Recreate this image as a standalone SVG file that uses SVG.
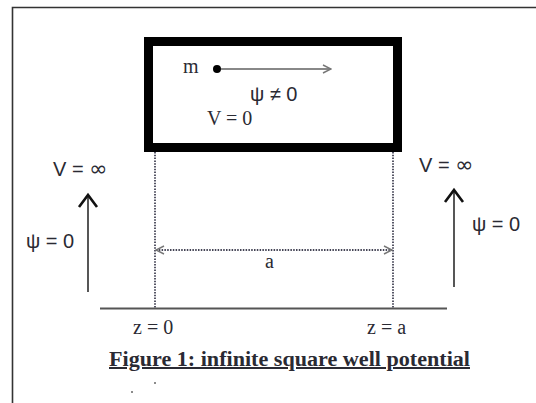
<svg xmlns="http://www.w3.org/2000/svg" width="536" height="403" viewBox="0 0 536 403">
<style>
.sans{font-family:"Liberation Sans",Arial,sans-serif;fill:#2a2a33;font-size:20px}
.serif{font-family:"Liberation Serif","Times New Roman",serif;fill:#2a2a33;font-size:20px}
.inf{font-family:"DejaVu Sans",sans-serif;font-size:22px}
.dot{stroke:#445;stroke-width:1.8;stroke-dasharray:1.5 1.3;fill:none}
.up{stroke:#444;stroke-width:1.8;fill:none}
.chev{stroke:#111;stroke-width:2.6;fill:none}
</style>
<defs>
<marker id="open" viewBox="0 0 10 10" refX="9" refY="5" markerWidth="10" markerHeight="10" markerUnits="userSpaceOnUse" orient="auto-start-reverse">
<path d="M1,1 L9,5 L1,9" fill="none" stroke="#777" stroke-width="1.4"/>
</marker>
</defs>
<rect width="536" height="403" fill="#fff"/>
<path d="M12.5,403 V7.5 H536" fill="none" stroke="#333" stroke-width="1.6"/>
<g id="well">
<rect x="148.5" y="41.5" width="249" height="106" fill="#fff" stroke="#000" stroke-width="9"/>
<text class="serif" x="183" y="73">m</text>
<circle cx="217" cy="69" r="4" fill="#000"/>
<text class="sans" x="250" y="101">ψ ≠ 0</text>
<text class="serif" x="207" y="125">V = 0</text>
</g>
<g id="left">
<text class="sans" x="53" y="176">V = <tspan class="inf">∞</tspan></text>
<text class="sans" x="26" y="248">ψ = 0</text>
</g>
<g id="right">
<text class="sans" x="419" y="172">V = <tspan class="inf">∞</tspan></text>
<text class="sans" x="472" y="231">ψ = 0</text>
</g>
<g id="axis">
<text class="serif" x="133" y="334">z = 0</text>
<text class="serif" x="367" y="334">z = a</text>
<text class="serif" x="265" y="268">a</text>
</g>
<g id="caption">
<text class="serif" x="109" y="366" font-weight="bold" font-size="18" textLength="361" lengthAdjust="spacingAndGlyphs" text-decoration="underline" fill="#111">Figure 1: infinite square well potential</text>
<circle cx="132" cy="392" r="1" fill="#666"/>
<circle cx="155" cy="383" r="1" fill="#666"/>
</g>
<g id="connectors">
<line x1="221" y1="69" x2="331" y2="69" stroke="#888" stroke-width="1.8" marker-end="url(#open)"/>
<line class="dot" x1="155" y1="152" x2="155" y2="308"/>
<line class="dot" x1="393" y1="152" x2="393" y2="308"/>
<line class="dot" x1="156" y1="250" x2="392" y2="250" marker-start="url(#open)" marker-end="url(#open)"/>
<line x1="100" y1="308.5" x2="447" y2="308.5" stroke="#555" stroke-width="1.8"/>
<line class="up" x1="88" y1="292" x2="88" y2="195"/>
<path class="chev" d="M79,207 L88,195 L97,207"/>
<line class="up" x1="454" y1="287" x2="454" y2="190"/>
<path class="chev" d="M445,202 L454,190 L463,202"/>
</g>
</svg>
